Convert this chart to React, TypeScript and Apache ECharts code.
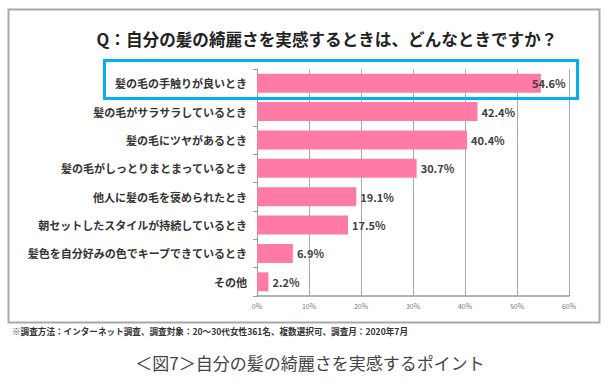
import React, { useEffect, useRef } from "react";
import * as echarts from "echarts";

const titleText = "Q：自分の髪の綺麗さを実感するときは、どんなときですか？";
const categories = [
  "髪の毛の手触りが良いとき",
  "髪の毛がサラサラしているとき",
  "髪の毛にツヤがあるとき",
  "髪の毛がしっとりまとまっているとき",
  "他人に髪の毛を褒められたとき",
  "朝セットしたスタイルが持続しているとき",
  "髪色を自分好みの色でキープできているとき",
  "その他",
];
const values = [54.6, 42.4, 40.4, 30.7, 19.1, 17.5, 6.9, 2.2];
const xTicks = { min: 0, max: 60, interval: 10 };
const footnote =
  "※調査方法：インターネット調査、調査対象：20～30代女性361名、複数選択可、調査月：2020年7月";
const caption = "＜図7＞自分の髪の綺麗さを実感するポイント";

const FONT = "'Noto Sans CJK JP', 'Noto Sans', sans-serif";

export default function App() {
  const ref = useRef<HTMLDivElement>(null);
  useEffect(() => {
    document.body.style.margin = "0";
    if (!ref.current) return;
    const chart = echarts.init(ref.current, null, { renderer: "svg" });
    chart.setOption({
      animation: false,
      backgroundColor: "#ffffff",
      textStyle: { fontFamily: FONT },
      grid: { left: 257, right: 42, top: 69, bottom: 88, containLabel: false },
      xAxis: {
        type: "value",
        min: xTicks.min,
        max: xTicks.max,
        interval: xTicks.interval,
        axisLine: { show: true, lineStyle: { color: "#999999", width: 1.5 } },
        axisTick: { show: false },
        axisLabel: {
          formatter: "{value}%",
          fontSize: 7,
          color: "#777777",
          margin: 6,
          fontFamily: FONT,
        },
        splitLine: { show: true, lineStyle: { color: "#aaaaaa", width: 1 } },
      },
      yAxis: {
        type: "category",
        inverse: true,
        data: categories,
        axisLine: { show: true, lineStyle: { color: "#999999", width: 1 } },
        axisTick: { show: true, length: 4, lineStyle: { color: "#999999" } },
        axisLabel: {
          fontSize: 11,
          fontWeight: "bold",
          color: "#333333",
          margin: 10,
          fontFamily: FONT,
        },
      },
      series: [
        {
          type: "bar",
          barWidth: 19,
          itemStyle: { color: "#ff7ba5" },
          label: {
            show: true,
            position: "right",
            distance: 4,
            formatter: "{c}%",
            fontSize: 11,
            fontWeight: "bold",
            color: "#404040",
            fontFamily: FONT,
          },
          data: values.map((v, i) =>
            i === 0 ? { value: v, label: { offset: [-13, 0] } } : { value: v }
          ),
        },
      ],
      graphic: [
        {
          type: "rect",
          shape: { x: 8.5, y: 9.5, width: 591, height: 313 },
          style: { fill: "none", stroke: "#a8a8a8", lineWidth: 2 },
          silent: true,
        },
        {
          type: "rect",
          shape: { x: 104.5, y: 60.5, width: 473, height: 38 },
          style: { fill: "none", stroke: "#00b0f0", lineWidth: 3 },
          silent: true,
          z: 100,
        },
        {
          type: "text",
          x: 327,
          y: 39,
          style: {
            text: titleText,
            fontSize: 16.6,
            fontWeight: "bold",
            fill: "#222222",
            align: "center",
            verticalAlign: "middle",
            fontFamily: FONT,
          },
        },
        {
          type: "text",
          x: 12,
          y: 331,
          style: {
            text: footnote,
            fontSize: 8.6,
            fontWeight: "bold",
            fill: "#333333",
            align: "left",
            verticalAlign: "middle",
            fontFamily: FONT,
          },
        },
        {
          type: "text",
          x: 310,
          y: 362,
          style: {
            text: caption,
            fontSize: 17,
            fill: "#444444",
            align: "center",
            verticalAlign: "middle",
            fontFamily: FONT,
          },
        },
      ],
    });
    return () => chart.dispose();
  }, []);
  return <div ref={ref} style={{ width: 611, height: 384 }} />;
}
